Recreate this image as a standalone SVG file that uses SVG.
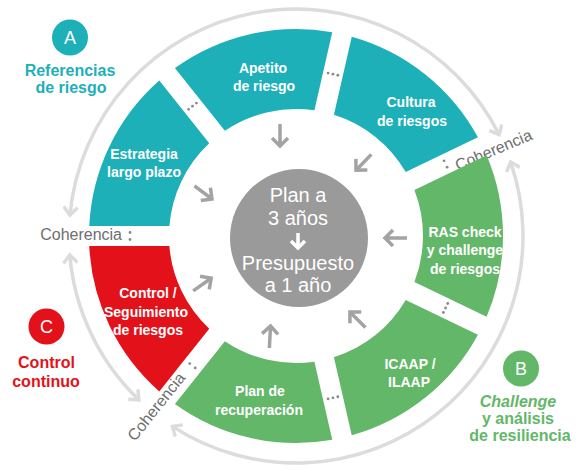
<svg xmlns="http://www.w3.org/2000/svg" width="577" height="470" viewBox="0 0 577 470">
<defs>
<style>
.teal{fill:#1db0b8}.green{fill:#63b769}.red{fill:#e3121a}
.lbl{font-family:"Liberation Sans",Arial,sans-serif;font-weight:bold;font-size:14px;fill:#fff;text-anchor:middle}
.ctr{font-family:"Liberation Sans",Arial,sans-serif;font-size:20px;fill:#fff;text-anchor:middle}
.big{font-family:"Liberation Sans",Arial,sans-serif;font-weight:bold;font-size:16px;text-anchor:middle}
.letter{font-family:"Liberation Sans",Arial,sans-serif;font-size:18px;fill:#fff;text-anchor:middle}
.coh{font-family:"Liberation Sans",Arial,sans-serif;font-size:16px;fill:#6e6e6e}
.arc{fill:none;stroke:#dcdcdc;stroke-width:3.5}
.inarr{fill:none;stroke:#a3a3a3;stroke-width:3.5}
.dot{fill:#8a8a8a}
</style>
<marker id="ah" viewBox="0 0 14 16" markerWidth="14" markerHeight="16" refX="11" refY="8" orient="auto-start-reverse" markerUnits="userSpaceOnUse">
<path d="M3,1 L11,8 L3,15" fill="none" stroke="#dcdcdc" stroke-width="3.5"/>
</marker>
<path id="arr" d="M-12,0 H10 M2,-8 L10,0 L2,8"/>
</defs>

<g id="connectors">
<path class="arc" d="M69.97,215.03 A227 227 0 0 1 499.15,134.71" marker-start="url(#ah)" marker-end="url(#ah)"/>
<path class="arc" d="M510.63,162.10 A227 227 0 0 1 172.37,426.38" marker-start="url(#ah)" marker-end="url(#ah)"/>
<path class="arc" d="M138.88,399.84 A227 227 0 0 1 69.80,255.00" marker-start="url(#ah)" marker-end="url(#ah)"/>
<g class="inarr">
<use href="#arr" transform="translate(204,193) rotate(37)"/>
<use href="#arr" transform="translate(280,136) rotate(90)"/>
<use href="#arr" transform="translate(363,163) rotate(134)"/>
<use href="#arr" transform="translate(395,238) rotate(180)"/>
<use href="#arr" transform="translate(357,319) rotate(225)"/>
<use href="#arr" transform="translate(270,336) rotate(-87)"/>
<use href="#arr" transform="translate(203,284) rotate(-35)"/>
</g>
<g class="dot">
<circle cx="130" cy="232.5" r="1.4"/><circle cx="130" cy="239.5" r="1.4"/>
<circle cx="188.59" cy="109.34" r="1.4"/><circle cx="192.5" cy="106.22" r="1.4"/><circle cx="196.41" cy="103.1" r="1.4"/>
<circle cx="328.07" cy="73.05" r="1.4"/><circle cx="332.94" cy="74.16" r="1.4"/><circle cx="337.81" cy="75.27" r="1.4"/>
<circle cx="444.04" cy="160.83" r="1.4"/><circle cx="447.08" cy="167.13" r="1.4"/>
<circle cx="447.73" cy="303.52" r="1.4"/><circle cx="445.56" cy="308.02" r="1.4"/><circle cx="443.39" cy="312.52" r="1.4"/>
<circle cx="337.81" cy="396.73" r="1.4"/><circle cx="332.94" cy="397.84" r="1.4"/><circle cx="328.07" cy="398.95" r="1.4"/>
<circle cx="195.24" cy="367.96" r="1.4"/><circle cx="189.76" cy="363.6" r="1.4"/>
</g>
<text class="coh" x="122" y="240" text-anchor="end">Coherencia</text>
<text class="coh" transform="translate(458,171) rotate(-23)">Coherencia</text>
<text class="coh" text-anchor="end" transform="translate(186,378) rotate(-51.43)">Coherencia</text>
</g>

<g id="seg-estrategia">
<path class="teal" d="M159.27,80.59 A207 207 0 0 0 89.24,226 L169.39,226 A127 127 0 0 1 209.24,143.25 Z"/>
<text class="lbl" x="144" y="159">Estrategia</text>
<text class="lbl" x="144" y="177">largo plazo</text>
</g>
<g id="seg-apetito">
<path class="teal" d="M332.26,32.2 A207 207 0 0 0 174.91,68.12 L224.88,130.78 A127 127 0 0 1 314.42,110.34 Z"/>
<text class="lbl" x="263" y="73">Apetito</text>
<text class="lbl" x="264" y="91">de riesgo</text>
</g>
<g id="seg-cultura">
<path class="teal" d="M477.94,137.28 A207 207 0 0 0 351.76,36.65 L333.92,114.79 A127 127 0 0 1 405.73,172.06 Z"/>
<text class="lbl" x="411" y="107">Cultura</text>
<text class="lbl" x="412" y="126">de riesgos</text>
</g>
<g id="seg-ras">
<path class="green" d="M486.62,316.7 A207 207 0 0 0 486.62,155.3 L414.41,190.08 A127 127 0 0 1 414.41,281.92 Z"/>
<text class="lbl" x="465" y="237">RAS check</text>
<text class="lbl" x="465" y="255">y challenge</text>
<text class="lbl" x="465" y="274">de riesgos</text>
</g>
<g id="seg-icaap">
<path class="green" d="M351.76,435.35 A207 207 0 0 0 477.94,334.72 L405.73,299.94 A127 127 0 0 1 333.92,357.21 Z"/>
<text class="lbl" x="410" y="369">ICAAP /</text>
<text class="lbl" x="409" y="387">ILAAP</text>
</g>
<g id="seg-plan">
<path class="green" d="M174.91,403.88 A207 207 0 0 0 332.26,439.8 L314.42,361.66 A127 127 0 0 1 224.88,341.22 Z"/>
<text class="lbl" x="260" y="396">Plan de</text>
<text class="lbl" x="259" y="415">recuperación</text>
</g>
<g id="seg-control">
<path class="red" d="M89.24,246 A207 207 0 0 0 159.27,391.41 L209.24,328.75 A127 127 0 0 1 169.39,246 Z"/>
<text class="lbl" x="148" y="298">Control /</text>
<text class="lbl" x="146" y="317">Seguimiento</text>
<text class="lbl" x="148" y="335">de riesgos</text>
</g>

<g id="center">
<circle cx="299" cy="238" r="69" fill="#9a9a9a"/>
<text class="ctr" x="298" y="202">Plan a</text>
<text class="ctr" x="298" y="225">3 años</text>
<path d="M298,233 V248 M291,241 L298,248 L305,241" fill="none" stroke="#fff" stroke-width="3.5"/>
<text class="ctr" x="298" y="270">Presupuesto</text>
<text class="ctr" x="298" y="292">a 1 año</text>
</g>

<g id="label-a">
<circle cx="70" cy="37.5" r="18" class="teal"/>
<text class="letter" x="70" y="44">A</text>
<text class="big teal" x="70" y="76">Referencias</text>
<text class="big teal" x="71" y="93">de riesgo</text>
</g>
<g id="label-b">
<circle cx="521" cy="368.5" r="18" class="green"/>
<text class="letter" x="521" y="375">B</text>
<text class="big green" x="518" y="407" font-style="italic">Challenge</text>
<text class="big green" x="518" y="424">y análisis</text>
<text class="big green" x="520" y="441">de resiliencia</text>
</g>
<g id="label-c">
<circle cx="46.5" cy="326.5" r="18" class="red"/>
<text class="letter" x="46.5" y="333">C</text>
<text class="big red" x="46.5" y="368">Control</text>
<text class="big red" x="46" y="387">continuo</text>
</g>
</svg>
